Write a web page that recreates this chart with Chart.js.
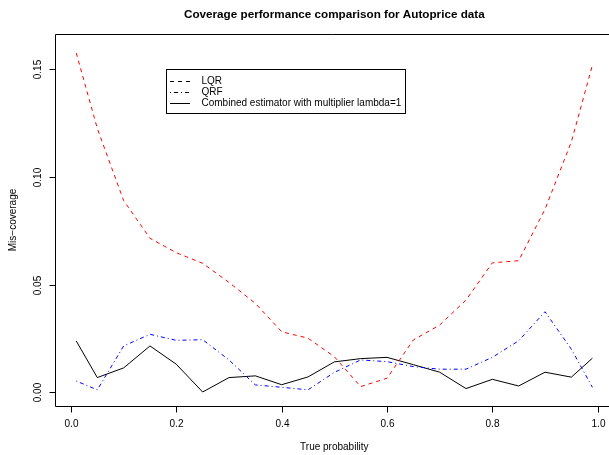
<!DOCTYPE html>
<html>
<head>
<meta charset="utf-8">
<script src="https://cdn.jsdelivr.net/npm/chart.js@4"></script>
<style>
  body { margin: 0; background: #fff; }
  canvas { display: block; }
</style>
</head>
<body>
<canvas id="chart" width="609" height="455"></canvas>
<script>
const probs = [0.01, 0.05, 0.10, 0.15, 0.20, 0.25, 0.30, 0.35, 0.40, 0.45, 0.50,
               0.55, 0.60, 0.65, 0.70, 0.75, 0.80, 0.85, 0.90, 0.95, 0.99];
const lqr = [0.1576, 0.1225, 0.0890, 0.0715, 0.0648, 0.0599, 0.0510, 0.0413, 0.0281, 0.0251, 0.0165,
             0.0026, 0.0065, 0.0243, 0.0312, 0.0428, 0.0601, 0.0611, 0.0850, 0.1163, 0.1519];
const qrf = [0.0052, 0.0011, 0.0215, 0.0269, 0.0241, 0.0244, 0.0150, 0.0034, 0.0023, 0.0011, 0.0092,
             0.0150, 0.0142, 0.0119, 0.0107, 0.0107, 0.0162, 0.0239, 0.0374, 0.0200, 0.0023];
const combined = [0.0238, 0.0068, 0.0113, 0.0215, 0.0130, 0.0001, 0.0068, 0.0076, 0.0035, 0.0071, 0.0141,
                  0.0156, 0.0162, 0.0128, 0.0093, 0.0017, 0.0060, 0.0029, 0.0093, 0.0070, 0.0158];

const xTicks = [0, 0.2, 0.4, 0.6, 0.8, 1.0];
const xTickLabels = ['0.0', '0.2', '0.4', '0.6', '0.8', '1.0'];
const yTicks = [0, 0.05, 0.10, 0.15];
const yTickLabels = ['0.00', '0.05', '0.10', '0.15'];

const title = 'Coverage performance comparison for Autoprice data';
const xTitle = 'True probability';
const yTitle = 'Mis\u2212coverage';

const FONT = "'Liberation Sans', Arial, sans-serif";

function pts(ys) {
    return probs.map((p, i) => ({ x: p, y: ys[i] }));
}

const datasets = [
    { label: 'LQR', data: pts(lqr), borderColor: '#ff0000', borderDash: [4, 4], legendDash: [4, 4] },
    { label: 'QRF', data: pts(qrf), borderColor: '#0000ff', borderDash: [1, 3, 4, 3], legendDash: [1, 3, 4, 3] },
    { label: 'Combined estimator with multiplier lambda=1', data: pts(combined), borderColor: '#000000', borderDash: [], legendDash: [] },
].map(d => Object.assign(d, { borderWidth: 1, pointRadius: 0, tension: 0, fill: false }));

// draws the R style frame, axes, titles and legend from the chart's scales
const rDecor = {
    id: 'rDecor',
    afterDraw(chart) {
        const { ctx, chartArea: a, scales: { x, y } } = chart;
        const L = Math.round(a.left) + 0.5, T = Math.round(a.top) + 0.5, B = Math.round(a.bottom) + 0.5;
        ctx.save();
        ctx.strokeStyle = '#000';
        ctx.fillStyle = '#000';
        ctx.lineWidth = 1;
        ctx.setLineDash([]);

        // box (right edge falls outside the canvas)
        ctx.beginPath();
        ctx.moveTo(a.right + 2, T);
        ctx.lineTo(L, T);
        ctx.lineTo(L, B);
        ctx.lineTo(a.right + 2, B);
        ctx.stroke();

        ctx.font = '10px ' + FONT;
        ctx.textAlign = 'center';
        ctx.textBaseline = 'middle';

        xTicks.forEach((v, i) => {
            const px = Math.round(x.getPixelForValue(v)) + 0.5;
            ctx.beginPath();
            ctx.moveTo(px, B);
            ctx.lineTo(px, B + 6);
            ctx.stroke();
            ctx.fillText(xTickLabels[i], px, a.bottom + 18);
        });

        yTicks.forEach((v, i) => {
            const py = Math.round(y.getPixelForValue(v)) + 0.5;
            ctx.beginPath();
            ctx.moveTo(L - 6, py);
            ctx.lineTo(L, py);
            ctx.stroke();
            ctx.save();
            ctx.translate(a.left - 17, py);
            ctx.rotate(-Math.PI / 2);
            ctx.fillText(yTickLabels[i], 0, 0);
            ctx.restore();
        });

        const cx = x.getPixelForValue(0.5);
        ctx.fillText(xTitle, cx, a.bottom + 41);
        ctx.save();
        ctx.translate(a.left - 42, (a.top + a.bottom) / 2);
        ctx.rotate(-Math.PI / 2);
        ctx.fillText(yTitle, 0, 0);
        ctx.restore();

        ctx.font = 'bold 11.7px ' + FONT;
        ctx.fillText(title, cx, 15);

        // legend
        const lx = 166.5, ly = 69.5, lw = 239, lh = 44;
        ctx.fillStyle = '#fff';
        ctx.fillRect(lx, ly, lw, lh);
        ctx.strokeRect(lx, ly, lw, lh);
        ctx.fillStyle = '#000';
        ctx.font = '10px ' + FONT;
        ctx.textAlign = 'left';
        chart.data.datasets.forEach((d, i) => {
            const ry = Math.round(ly + 11 + i * 11) + 0.5;
            ctx.setLineDash(d.legendDash);
            ctx.beginPath();
            ctx.moveTo(170, ry);
            ctx.lineTo(190, ry);
            ctx.stroke();
            ctx.fillText(d.label, 201.5, ry);
        });
        ctx.restore();
    }
};

new Chart(document.getElementById('chart'), {
    type: 'line',
    data: { datasets: datasets },
    options: {
        responsive: false,
        animation: false,
        layout: { padding: { left: 55.4, top: 34, right: 0, bottom: 49 } },
        plugins: {
            legend: { display: false },
            title: { display: false },
            tooltip: { enabled: false }
        },
        scales: {
            x: { type: 'linear', display: false, min: -0.0296, max: 1.0215 },
            y: { type: 'linear', display: false, min: -0.0064, max: 0.1664 }
        }
    },
    plugins: [rDecor]
});
</script>
</body>
</html>
